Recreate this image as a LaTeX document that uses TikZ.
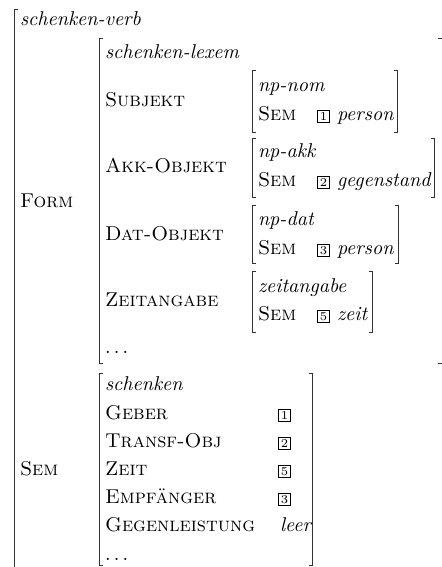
\documentclass[tikz,border=0pt]{standalone}
\begin{document}
\begin{tikzpicture}[x=0.5pt,y=-0.5pt,
  br/.style={line width=0.5pt, black!80},
  t/.style={anchor=base west, inner sep=0pt, outer sep=0pt},
  tg/.style={draw, line width=0.4pt, inner sep=0pt, minimum width=6.2pt, minimum height=6.2pt, font=\fontsize{6}{6}\selectfont}]
\useasboundingbox (0,0) rectangle (442,567);
\clip (0,0) rectangle (442,567);
% bracket helpers
\newcommand\lbrk[3]{\draw[br] (#1+3.5,#2) -- (#1,#2) -- (#1,#3) -- (#1+3.5,#3);}
\newcommand\rbrk[3]{\draw[br] (#1-3.5,#2) -- (#1,#2) -- (#1,#3) -- (#1-3.5,#3);}
% outer matrix
\draw[br] (17.5,10) -- (14,10) -- (14,600);
\node[t] (verb) at (20,26) {\textit{schenken-verb}};
\node[t] (form) at (20,207) {\textsc{Form}};
\node[t] (sem) at (20,475) {\textsc{Sem}};
% FORM matrix
\lbrk{99}{39}{363}
\draw[br] (437.5,39) -- (446,39) -- (446,363) -- (437.5,363);
\node[t] (lexem) at (105,59) {\textit{schenken-lexem}};
\node[t] (subj) at (105,106) {\textsc{Subjekt}};
\node[t] (akk) at (105,172) {\textsc{Akk-Objekt}};
\node[t] (dat) at (105,240) {\textsc{Dat-Objekt}};
\node[t] (zeitang) at (105,306) {\textsc{Zeitangabe}};
\node[t] (fdots) at (105,353) {$\ldots$};
% Subjekt
\lbrk{252}{71}{132}
\rbrk{397}{71}{132}
\node[t] (npnom) at (258,91) {\textit{np-nom}};
\node[t] (sem1) at (258,120) {\textsc{Sem}};
\node[tg] (tag1) at (323.5,116.5) {1};
\node[t] (pers1) at (337,120) {\textit{person}};
% Akk
\lbrk{252}{138}{197}
\rbrk{434}{138}{197}
\node[t] (npakk) at (258,157) {\textit{np-akk}};
\node[t] (sem2) at (258,186) {\textsc{Sem}};
\node[tg] (tag2) at (323.5,182.5) {2};
\node[t] (geg) at (337,186) {\textit{gegenstand}};
% Dat
\lbrk{252}{205}{263}
\rbrk{398}{205}{263}
\node[t] (npdat) at (258,225) {\textit{np-dat}};
\node[t] (sem3) at (258,254) {\textsc{Sem}};
\node[tg] (tag3) at (323.5,250.5) {3};
\node[t] (pers3) at (337,254) {\textit{person}};
% Zeitangabe
\lbrk{252}{271}{332}
\rbrk{372}{271}{332}
\node[t] (zang) at (258,292) {\textit{zeitangabe}};
\node[t] (sem5) at (258,320) {\textsc{Sem}};
\node[tg] (tag5) at (323.5,316.5) {5};
\node[t] (zeit) at (337,320) {\textit{zeit}};
% SEM matrix
\lbrk{99}{373}{565}
\rbrk{312}{373}{565}
\node[t] (schenken) at (105,390) {\textit{schenken}};
\node[t] (geber) at (105,419) {\textsc{Geber}};
\node[t] (transf) at (105,447) {\textsc{Transf-Obj}};
\node[t] (zeitf) at (105,475) {\textsc{Zeit}};
\node[t] (empf) at (105,503) {\textsc{Empfänger}};
\node[t] (gegenl) at (105,531) {\textsc{Gegenleistung}};
\node[t] (sdots) at (105,560) {$\ldots$};
\node[tg] (s1) at (284.5,415.5) {1};
\node[tg] (s2) at (284.5,443.5) {2};
\node[tg] (s5) at (284.5,471.5) {5};
\node[tg] (s3) at (284.5,499.5) {3};
\node[t] (leer) at (280,531) {\textit{leer}};
\end{tikzpicture}
\end{document}
